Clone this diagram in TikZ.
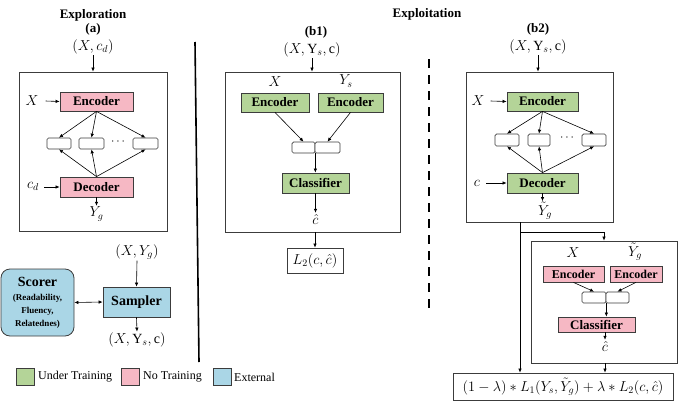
\documentclass[tikz,border=0pt]{standalone}
\usepackage{fontspec}
\setmainfont{Liberation Serif}
\usetikzlibrary{arrows.meta}
\definecolor{pinkf}{RGB}{246,184,196}
\definecolor{greenf}{RGB}{180,212,152}
\definecolor{bluef}{RGB}{170,214,230}
\definecolor{edgec}{RGB}{60,60,60}
\tikzset{
  every node/.style={font=\fontsize{14}{16}\selectfont, inner sep=1pt},
  ttl/.style={font=\fontsize{13}{15}\selectfont\bfseries},
  outer/.style={draw=edgec, line width=0.8pt, inner sep=0pt},
  blk/.style={draw=edgec, line width=0.8pt, inner sep=0pt, font=\fontsize{13}{15}\selectfont\bfseries},
  pinkbox/.style={blk, fill=pinkf},
  greenbox/.style={blk, fill=greenf},
  bluebox/.style={blk, fill=bluef},
  cell/.style={draw=edgec, line width=0.7pt, fill=white, rounded corners=1.5pt, inner sep=0pt, minimum height=11pt},
  arr/.style={-{Latex[length=4pt,width=3.5pt]}, line width=0.6pt},
  darr/.style={{Latex[length=4pt,width=3.5pt]}-{Latex[length=4pt,width=3.5pt]}, line width=0.6pt},
  lsq/.style={draw=edgec, line width=0.8pt, minimum width=18pt, minimum height=17pt, inner sep=0pt},
  ltx/.style={anchor=west, font=\fontsize{12}{14}\selectfont},
}
\begin{document}
\begin{tikzpicture}[x=1pt,y=-1pt]
\useasboundingbox (0,0) rectangle (678,402);

% ---------------- Exploration (a)
\node[ttl] (expl) at (93,15) {Exploration};
\node[ttl] (la) at (93,29) {(a)};
\node (ina) at (93,47) {$(X,c_d)$};
\node[outer, minimum width=148pt, minimum height=159pt] (boxa) at (93,151.5) {};
\draw[arr] (ina.south) -- (boxa.north);
\node[pinkbox, minimum width=73pt, minimum height=19pt] (encA) at (96.5,101.5) {Encoder};
\node (xa) at (32,101) {$X$};
\draw[arr] (xa.east) ++(6,0) -- (encA.west);
\node[cell, minimum width=24pt] (sa1) at (59,143.5) {};
\node[cell, minimum width=25pt] (sa2) at (91.5,143.5) {};
\node[cell, minimum width=25pt] (sa3) at (145.5,143.5) {};
\node[font=\fontsize{12}{14}\selectfont] (dotsa) at (118,141.5) {$\cdots$};
\node[pinkbox, minimum width=73pt, minimum height=20pt] (decA) at (96.5,187) {Decoder};
\node (cda) at (33,186) {$c_d$};
\draw[arr] (cda.east) ++(4,1) -- (decA.west);
\foreach \s in {sa1,sa2,sa3}{
  \draw[arr] (encA.south) -- (\s.north);
  \draw[arr] (decA.north) -- (\s.south);
}
\node (yga) at (96.5,214) {$Y_g$};
\draw[arr] (decA.south) -- (yga.north);

% ---------------- Sampler / Scorer
\node (ygin) at (137,252) {$(X,Y_g)$};
\node[bluebox, minimum width=67pt, minimum height=30pt, font=\fontsize{14}{16}\selectfont\bfseries] (samp) at (136.5,302) {Sampler};
\draw[arr] (ygin.south) -- (samp.north);
\node[bluebox, rounded corners=9pt, minimum width=73pt, minimum height=67pt, align=center, font=\fontsize{14}{16}\selectfont\bfseries] (scor) at (37.5,302.5)
  {Scorer\\[-2pt]{\fontsize{9}{11}\selectfont (Readability,}\\[-3pt]{\fontsize{9}{11}\selectfont Fluency,}\\[-3pt]{\fontsize{9}{11}\selectfont Relatednes)}};
\draw[darr] (scor.east) -- (samp.west);
\node (outs) at (137,340) {$(X,\mathrm{Y}_s,\mathrm{c})$};
\draw[arr] (samp.south) -- (outs.north);

% ---------------- Legend
\node[lsq, fill=greenf] (lg1) at (25,376.5) {};
\node[ltx] (lt1) at (37,377) {Under Training};
\node[lsq, fill=pinkf] (lg2) at (130,376.5) {};
\node[ltx] (lt2) at (142,377) {No Training};
\node[lsq, fill=bluef] (lg3) at (222,376.5) {};
\node[ltx] (lt3) at (233,377) {External};

% ---------------- Dividers
\coordinate (sl1) at (195,42);
\coordinate (sl2) at (199,362);
\draw[line width=1.6pt] (sl1) -- (sl2);
\coordinate (dl1) at (429,59);
\coordinate (dl2) at (429,313);
\draw[line width=1.6pt, dash pattern=on 9pt off 7pt] (dl1) -- (dl2);
\node[ttl] (expt) at (427,14) {Exploitation};

% ---------------- (b1)
\node[ttl] (lb1) at (316,32) {(b1)};
\node (inb1) at (312,50) {$(X,\mathrm{Y}_s,\mathrm{c})$};
\node[outer, minimum width=175pt, minimum height=160pt] (boxb1) at (312.5,152) {};
\draw[arr] (inb1.south) -- (inb1.south |- boxb1.north);
\node (xb1) at (275,82) {$X$};
\node (ysb1) at (346,81) {$Y_s$};
\node[greenbox, minimum width=68pt, minimum height=19pt] (encB1) at (275,102.5) {Encoder};
\node[greenbox, minimum width=65pt, minimum height=19pt] (encB2) at (350.5,102.5) {Encoder};
\node[cell, minimum width=23pt] (cb1) at (303.5,147.5) {};
\node[cell, minimum width=25pt] (cb2) at (327.5,147.5) {};
\draw[arr] (encB1.south) -- (cb1.north);
\draw[arr] (encB2.south) -- (cb2.north);
\node[greenbox, minimum width=67pt, minimum height=20pt] (clsB) at (315.5,183) {Classifier};
\draw[arr] (cb1.south east) -- (cb1.south east |- clsB.north);
\node (chb1) at (315.5,219) {$\hat{c}$};
\draw[arr] (clsB.south) -- (chb1.north);
\node[outer, minimum width=56pt, minimum height=25pt] (l2b) at (315,260.5) {$L_2(c,\hat{c})$};
\draw[arr] (l2b.north |- boxb1.south) -- (l2b.north);

% ---------------- (b2)
\node[ttl] (lb2) at (538,29) {(b2)};
\node (inb2) at (538,47) {$(X,\mathrm{Y}_s,\mathrm{c})$};
\node[outer, minimum width=147pt, minimum height=150pt] (boxb2) at (539.5,147) {};
\draw[arr] (inb2.south) -- (inb2.south |- boxb2.north);
\node[greenbox, minimum width=71pt, minimum height=19pt] (encC) at (542.5,101.5) {Encoder};
\node (xb2) at (478,101) {$X$};
\draw[arr] (xb2.east) ++(5,0) -- (encC.west);
\node[cell, minimum width=24pt, minimum height=12pt] (sc1) at (507,140) {};
\node[cell, minimum width=22pt, minimum height=12pt] (sc2) at (539,140) {};
\node[cell, minimum width=24pt, minimum height=12pt] (sc3) at (594,140) {};
\node[font=\fontsize{12}{14}\selectfont] (dotsc) at (567,138) {$\cdots$};
\node[greenbox, minimum width=71pt, minimum height=20pt] (decC) at (542.5,183) {Decoder};
\node (cb2l) at (477,183) {$c$};
\draw[arr] (cb2l.east) ++(5,0) -- (decC.west);
\foreach \s in {sc1,sc2,sc3}{
  \draw[arr] (encC.south) -- (\s.north);
  \draw[arr] (decC.north) -- (\s.south);
}
\node (ygt) at (545,211) {$\tilde{Y}_g$};
\draw[arr] (decC.south) -- (decC.south |- ygt.north);

% inner classifier box
\node[outer, minimum width=146pt, minimum height=122pt] (inner) at (604,302) {};
\coordinate (br) at (520,222);
\coordinate (brk) at (520,232);
\node[outer, minimum width=220pt, minimum height=27pt] (loss) at (563,386.5)
  {$(1-\lambda)*L_1\big(Y_s,\tilde{Y}_g\big)+\lambda*L_2(c,\hat{c})$};
\draw[arr] (br) -- (br |- loss.north);
\draw[arr] (brk) -| (inner.north);
\node (xd) at (573,253) {$X$};
\node (ygd) at (635,252) {$\tilde{Y}_g$};
\node[pinkbox, minimum width=61pt, minimum height=16pt, font=\fontsize{12}{14}\selectfont\bfseries] (encD1) at (573.5,274) {Encoder};
\node[pinkbox, minimum width=52pt, minimum height=16pt, font=\fontsize{12}{14}\selectfont\bfseries] (encD2) at (636,274) {Encoder};
\node[cell, minimum width=24pt] (cd1) at (594,297.5) {};
\node[cell, minimum width=23pt] (cd2) at (617.5,297.5) {};
\draw[arr] (encD1.south) -- (cd1.north);
\draw[arr] (encD2.south) -- (cd2.north);
\node[pinkbox, minimum width=77pt, minimum height=15pt] (clsD) at (596.5,324.5) {Classifier};
\draw[arr] (cd1.south east) -- (cd1.south east |- clsD.north);
\node (chd) at (605,346) {$\hat{c}$};
\draw[arr] (clsD.south -| chd) -- (chd.north);
\draw[arr] (chd |- inner.south) -- (chd |- loss.north);
\end{tikzpicture}
\end{document}
